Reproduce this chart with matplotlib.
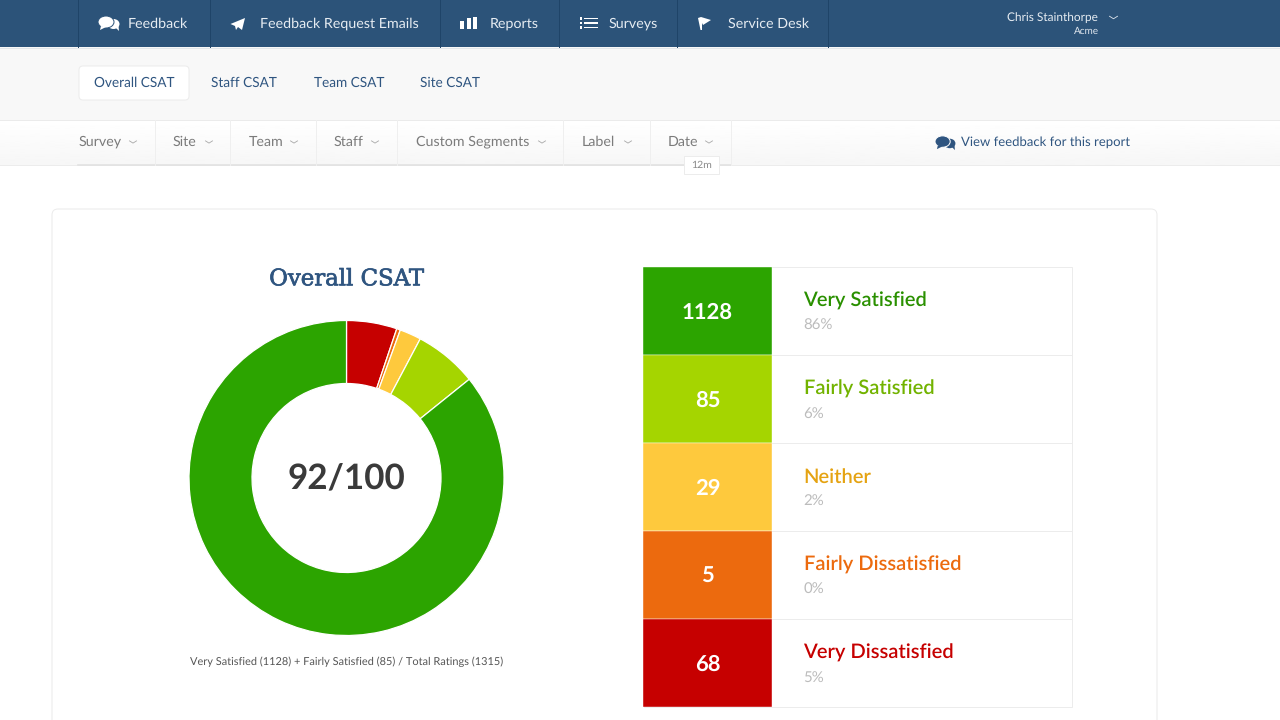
import matplotlib
matplotlib.use('Agg')
import matplotlib.pyplot as plt
import matplotlib.patheffects as pe
from matplotlib.patches import Rectangle, FancyBboxPatch, Ellipse, Polygon
import numpy as np

plt.rcParams['font.family'] = ['Lato', 'DejaVu Sans']
plt.rcParams['text.hinting'] = 'no_hinting'

rating_labels = ['Very Satisfied', 'Fairly Satisfied', 'Neither', 'Fairly Dissatisfied', 'Very Dissatisfied']
rating_counts = [1128, 85, 29, 5, 68]
rating_pcts = ['86%', '6%', '2%', '0%', '5%']
block_colours = ['#2ca400', '#a5d500', '#fec93d', '#ec6a0e', '#c60000']
text_colours = ['#2a9000', '#72b300', '#e5a312', '#ec6a0e', '#c60000']

nav_labels = ['Feedback', 'Feedback Request Emails', 'Reports', 'Surveys', 'Service Desk']
nav_text_x = [128, 260, 490, 609, 728]
nav_dividers = [78, 210, 440, 559, 677, 828]
tab_labels = ['Overall CSAT', 'Staff CSAT', 'Team CSAT', 'Site CSAT']
tab_x = [94, 211, 314, 420]
filter_labels = ['Survey', 'Site', 'Team', 'Staff', 'Custom Segments', 'Label', 'Date']
filter_x = [79, 173, 249, 334, 416, 582, 668]
filter_chevron_x = [133, 209, 294, 375, 542, 628, 709]
filter_dividers = [155, 230, 316, 397, 563, 650, 731]

NAVY = '#2c5379'
BLUE_TEXT = '#2f5580'
GREY_TEXT = '#7b7b7b'
HAIR = 0.72  # one pixel at dpi 100


def px(size):
    return size * 72 / 100


def chevron(ax, x, y, colour, w=3.5, h=2.2, lw=0.6):
    ax.plot([x - w, x, x + w], [y - h / 2, y + h / 2, y - h / 2], color=colour, lw=lw, zorder=6)


def solid(ax, patch):
    patch.set_linewidth(0)
    patch.set_zorder(5)
    ax.add_patch(patch)


def bubbles(ax, x, y, colour, scale=1.0):
    # two overlapping speech bubbles, back one first
    solid(ax, Ellipse((x + 5.5 * scale, y + 1 * scale), 12 * scale, 10 * scale, color=colour))
    solid(ax, Polygon([(x + 7 * scale, y + 4 * scale), (x + 11 * scale, y + 8 * scale), (x + 10.5 * scale, y + 3 * scale)],
                      color=colour))
    edge = NAVY if colour == 'white' else 'white'
    ax.add_patch(Ellipse((x - 2 * scale, y - 1 * scale), 16 * scale, 12 * scale, facecolor=colour, edgecolor=edge, lw=HAIR, zorder=5))
    solid(ax, Polygon([(x - 7 * scale, y + 3 * scale), (x - 8 * scale, y + 7 * scale), (x - 2 * scale, y + 4 * scale)],
                      color=colour))


fig = plt.figure(figsize=(12.8, 7.2), dpi=100, facecolor='white')
ax = fig.add_axes([0, 0, 1, 1])
ax.set_xlim(0, 1280)
ax.set_ylim(720, 0)
ax.axis('off')

# top nav
ax.add_patch(Rectangle((0, 0), 1280, 47, fc=NAVY, lw=0, zorder=1))
for x in nav_dividers:
    ax.plot([x, x], [0, 47], color='#1f4468', lw=HAIR, zorder=2)
for label, x in zip(nav_labels, nav_text_x):
    ax.text(x, 23.5, label, color='#e6ecf2', fontsize=px(14.3), va='center', ha='left', zorder=3)

bubbles(ax, 108, 23, 'white')
solid(ax, Polygon([(230.5, 24), (245, 18), (242, 30), (238, 27), (236, 30), (235, 26)], color='white'))
for bx, bh in zip([460, 466.5, 473], [8.5, 11, 12]):
    solid(ax, Rectangle((bx, 29.3 - bh), 4, bh, color='white'))
for ly in [18.5, 23, 27.5]:
    solid(ax, Rectangle((579.5, ly - 1.2), 2.5, 2.5, color='white'))
    solid(ax, Rectangle((584, ly - 0.9), 14, 1.8, color='white'))
solid(ax, Polygon([(698, 18), (701, 17), (711, 20), (703, 25), (702, 23), (702, 30), (700.5, 30)], color='white'))

ax.text(1098, 17.5, 'Chris Stainthorpe', color='#e6ecf2', fontsize=px(11.9), va='center', ha='right', zorder=3)
ax.text(1099, 31.5, 'Acme', color='#dfe6ee', fontsize=px(10), va='center', ha='right', zorder=3)
chevron(ax, 1113.5, 17.5, '#dfe6ee', w=4, h=2.5)

# tab strip
ax.add_patch(Rectangle((0, 47), 1280, 73, fc='#f8f8f8', lw=0, zorder=1))
ax.plot([0, 1280], [47.5, 47.5], color='#e3e7eb', lw=HAIR, zorder=2)
ax.add_patch(FancyBboxPatch((79, 66), 110, 34, boxstyle='round,pad=0,rounding_size=4',
                            fc='white', ec='#ececec', lw=HAIR, zorder=2))
for label, x in zip(tab_labels, tab_x):
    ax.text(x, 83, label, color=BLUE_TEXT, fontsize=px(13.6), va='center', ha='left', zorder=3)

# filter bar with soft gradient
grad = np.linspace(1.0, 0.965, 40).reshape(-1, 1)
ax.imshow(grad, extent=(0, 1280, 165, 120), cmap='gray', vmin=0, vmax=1, aspect='auto', zorder=1)
ax.set_xlim(0, 1280)
ax.set_ylim(720, 0)
ax.plot([0, 1280], [119.5, 119.5], color='#ebebeb', lw=HAIR, zorder=2)
ax.plot([0, 1280], [164.5, 164.5], color='#ececec', lw=HAIR, zorder=2)
ax.plot([78, 731], [165, 165], color='#e2e2e2', lw=1.2, zorder=2)
for x in filter_dividers:
    ax.plot([x - 0.5, x - 0.5], [120, 165], color='#efefef', lw=HAIR, zorder=2)
for label, x in zip(filter_labels, filter_x):
    ax.text(x, 142, label, color=GREY_TEXT, fontsize=px(14.2), va='center', ha='left', zorder=3)
for x in filter_chevron_x:
    chevron(ax, x, 142, '#a8a8a8')
ax.add_patch(Rectangle((684, 155.5), 35, 18, fc='white', ec='#ececec', lw=HAIR, zorder=4))
ax.text(701.5, 165, '12m', color='#8a8a8a', fontsize=px(10.5), va='center', ha='center', zorder=5)
bubbles(ax, 944.5, 142.5, BLUE_TEXT, scale=0.95)
ax.text(961, 142, 'View feedback for this report', color=BLUE_TEXT, fontsize=px(13.15), va='center', ha='left', zorder=3)

# card
ax.add_patch(FancyBboxPatch((52, 209), 1105, 560, boxstyle='round,pad=0,rounding_size=6',
                            fc='white', ec='#ebebeb', lw=HAIR, zorder=1))
ax.text(346.5, 279, 'Overall CSAT', color=BLUE_TEXT, fontsize=px(22.8), family=['DejaVu Serif'],
        va='center', ha='center', zorder=3,
        path_effects=[pe.withStroke(linewidth=0.5, foreground=BLUE_TEXT)])

# rating table
row_h = 88
table_top = 267
for i, (label, count, pct) in enumerate(zip(rating_labels, rating_counts, rating_pcts)):
    top = table_top + i * row_h
    ax.add_patch(Rectangle((643.5, top), 428.5, row_h, fc='white', ec='#ececec', lw=HAIR, zorder=2))
    ax.add_patch(Rectangle((643, top), 129, row_h, fc=block_colours[i], ec='white', lw=0.3, zorder=3))
    ax.text(707.5, top + 45.5, str(count), color='white', fontsize=px(22), fontweight='bold',
            va='center', ha='center', zorder=4)
    ax.text(803.5, top + 34, label, color=text_colours[i], fontsize=px(20.1), fontweight='semibold',
            va='center', ha='left', zorder=4)
    ax.text(803.5, top + 58.5, pct, color='#bcbcbc', fontsize=px(15), va='center', ha='left', zorder=4)

ax.text(346.5, 662, 'Very Satisfied (1128) + Fairly Satisfied (85) / Total Ratings (1315)',
        color='#555555', fontsize=px(11), va='center', ha='center', zorder=3)

# donut
cx, cy, r = 346.5, 478, 157.5
ax_pie = fig.add_axes([(cx - r) / 1280, 1 - (cy + r) / 720, 2 * r / 1280, 2 * r / 720], zorder=5)
ax_pie.patch.set_alpha(0)
pie_order = [4, 3, 2, 1, 0]
ax_pie.pie([rating_counts[i] for i in pie_order], colors=[block_colours[i] for i in pie_order],
           startangle=90, counterclock=False, radius=1.0,
           wedgeprops=dict(width=0.4, edgecolor='white', linewidth=0.9))
ax_pie.set_xlim(-1, 1)
ax_pie.set_ylim(-1, 1)
ax_pie.text(0, 0, '92/100', color='#3a3a3a', fontsize=px(35), fontweight='bold', ha='center', va='center')

fig.savefig('out.png', dpi=100)
